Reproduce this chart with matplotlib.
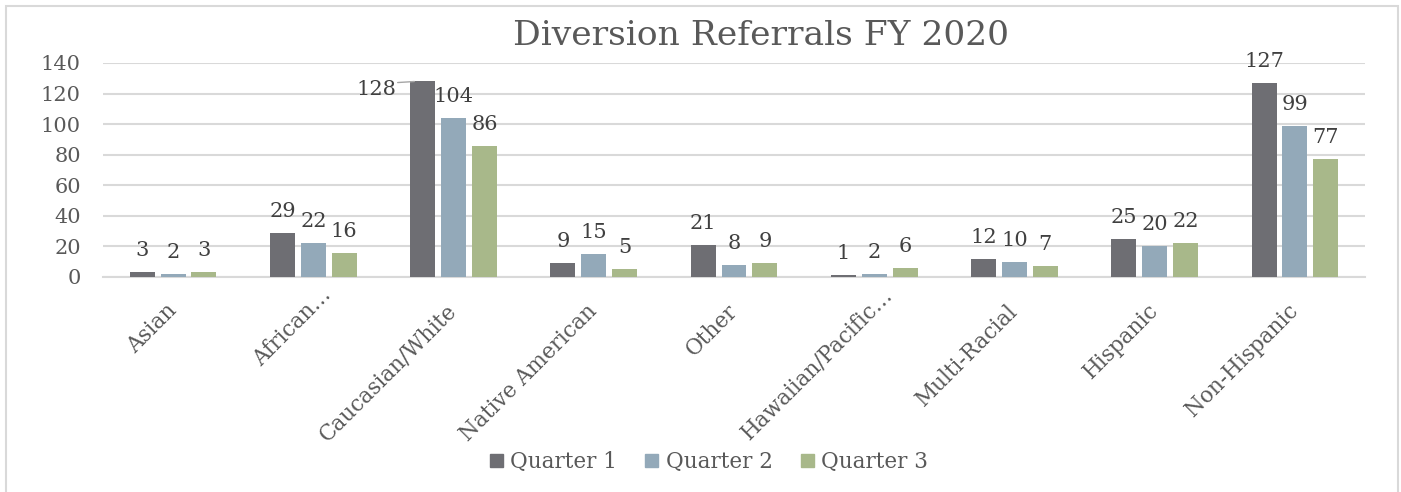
import matplotlib.pyplot as plt
from matplotlib.patches import Rectangle, Patch
from matplotlib.transforms import ScaledTranslation
import numpy as np

# --- data ---
categories = ['Asian', 'African…', 'Caucasian/White', 'Native American', 'Other',
              'Hawaiian/Pacific…', 'Multi-Racial', 'Hispanic', 'Non-Hispanic']
quarter1 = [3, 29, 128, 9, 21, 1, 12, 25, 127]
quarter2 = [2, 22, 104, 15, 8, 2, 10, 20, 99]
quarter3 = [3, 16, 86, 5, 9, 6, 7, 22, 77]
series_names = ['Quarter 1', 'Quarter 2', 'Quarter 3']
y_ticks = [0, 20, 40, 60, 80, 100, 120, 140]

colors = ['#6e6e73', '#93a9b9', '#a8b88a']
grid_col = '#d9d9d9'
text_col = '#404040'

plt.rcParams['font.family'] = ['DejaVu Serif']

W, H = 1401, 492
fig = plt.figure(figsize=(W / 100, H / 100), dpi=100)
ax = fig.add_axes([103 / W, 1 - 277 / H, (1365 - 103) / W, (277 - 63) / H])

x = np.arange(len(categories))
width = 0.178
offsets = [-0.22, 0.0, 0.22]
all_series = [quarter1, quarter2, quarter3]

for vals, off, col, name in zip(all_series, offsets, colors, series_names):
    ax.bar(x + off, vals, width=width, color=col, label=name, zorder=3)
    for xi, v in zip(x, vals):
        if name == 'Quarter 1' and v == 128:
            # label pushed to the left with a small leader line
            ax.annotate(str(v), (xi + off, v), xytext=(-33, -10),
                        textcoords='offset points', ha='center', va='baseline',
                        fontsize=15, color=text_col)
            ax.annotate('', (xi + off - 0.04, v), xytext=(-16, -1),
                        textcoords='offset points',
                        arrowprops=dict(arrowstyle='-', color='#a6a6a6', lw=1))
        else:
            ax.annotate(str(v), (xi + off, v), xytext=(0, 11.5),
                        textcoords='offset points', ha='center', va='baseline',
                        fontsize=15, color=text_col)

ax.set_xlim(-0.5, len(categories) - 0.5)
ax.set_ylim(0, 140)
ax.set_yticks(y_ticks)
ax.yaxis.grid(True, color=grid_col, lw=1.5, zorder=0)
ax.set_axisbelow(True)
for s in ['top', 'right', 'left']:
    ax.spines[s].set_visible(False)
ax.spines['bottom'].set_color(grid_col)
ax.spines['bottom'].set_linewidth(1.5)
ax.tick_params(axis='both', length=0, labelsize=15, colors='#595959')
ax.tick_params(axis='y', pad=16)
ax.set_xticks(x)
ax.set_xticklabels(categories, rotation=45, ha='right', va='center',
                   rotation_mode='anchor', fontsize=15.5)
ax.tick_params(axis='x', pad=22)

# truncated labels sit a bit further along their direction in the original
for lbl in ax.get_xticklabels():
    if lbl.get_text().endswith('…'):
        lbl.set_transform(lbl.get_transform() +
                          ScaledTranslation(0.15, 0.16, fig.dpi_scale_trans))

fig.text(761 / W, 1 - 36 / H, 'Diversion Referrals FY 2020', ha='center',
         va='center', fontsize=24.8, color='#595959')

handles = [Patch(color=c) for c in colors]
fig.legend(handles, series_names, loc='center', bbox_to_anchor=(709 / W, 1 - 462 / H),
           ncol=3, frameon=False, fontsize=15.5, handlelength=0.6, handleheight=0.6,
           handletextpad=0.35, columnspacing=1.3, labelcolor='#595959')

fig.add_artist(Rectangle((6 / W, -0.1), (1398 - 6) / W, 1.1 - 6 / H,
                         transform=fig.transFigure, fill=False, ec=grid_col, lw=1.5))

fig.savefig('out.png', dpi=100)
